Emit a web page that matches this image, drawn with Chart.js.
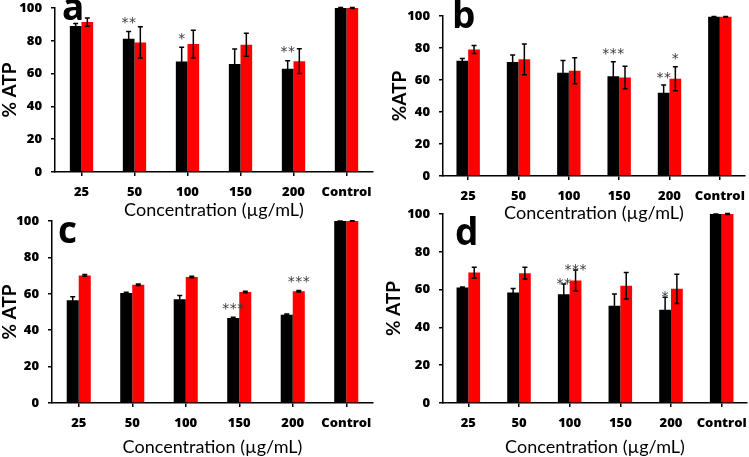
<!DOCTYPE html>
<html>
<head>
<meta charset="utf-8">
<script src="https://cdn.jsdelivr.net/npm/chart.js@4.4.0/dist/chart.umd.min.js"></script>
<style>
  html, body { margin: 0; padding: 0; background: #fff; }
  body { width: 749px; height: 457px; position: relative; overflow: hidden; }
  canvas { position: absolute; }
</style>
</head>
<body>
<canvas id="pa" width="375" height="225" style="left:0;top:0"></canvas>
<canvas id="pb" width="374" height="225" style="left:375px;top:0"></canvas>
<canvas id="pc" width="375" height="252" style="left:0;top:205px"></canvas>
<canvas id="pd" width="374" height="252" style="left:375px;top:205px"></canvas>
<script>
const categories = ['25', '50', '100', '150', '200', 'Control'];
const yTicks = [0, 20, 40, 60, 80, 100];
const xTitle = 'Concentration (µg/mL)';

// panel a
const aBlack = [89, 81.3, 67.4, 65.8, 63, 100];
const aBlackErr = [1.6, 4.4, 8.6, 9.2, 4.8, 0.3];
const aRed = [91.4, 79, 78, 77.6, 67.6, 100];
const aRedErr = [2.5, 9.5, 8.5, 7, 7.5, 0.3];
const aStarsBlack = ['', '**', '*', '', '**', ''];
const aStarsRed = ['', '', '', '', '', ''];

// panel b
const bBlack = [72, 71.2, 64.5, 62.4, 52, 99.5];
const bBlackErr = [1.5, 4.4, 7.7, 9, 4.8, 0.2];
const bRed = [79.1, 72.9, 65.8, 61.6, 60.8, 99.5];
const bRedErr = [2.5, 9.6, 8.1, 7, 7.5, 0.2];
const bStarsBlack = ['', '', '', '***', '**', ''];
const bStarsRed = ['', '', '', '', '*', ''];

// panel c
const cBlack = [56.4, 60.4, 57, 46.7, 48.5, 100];
const cBlackErr = [2, 0.4, 2, 0.4, 0.4, 0];
const cRed = [70.1, 65, 69.2, 61, 61.4, 100];
const cRedErr = [0.5, 0.4, 0.4, 0.4, 0.4, 0.2];
const cStarsBlack = ['', '', '', '***', '', ''];
const cStarsRed = ['', '', '', '', '***', ''];

// panel d
const dBlack = [61.1, 58.5, 57.6, 51.4, 49.3, 100];
const dBlackErr = [0.3, 2.1, 5.4, 6.3, 6.7, 0];
const dRed = [69, 68.7, 64.8, 62, 60.4, 100];
const dRedErr = [2.8, 3.1, 5.6, 7, 7.7, 0.2];
const dStarsBlack = ['', '', '**', '', '*', ''];
const dStarsRed = ['', '', '***', '', '', ''];

const FONT = 'Lato, "Open Sans", sans-serif';
const TICK_FONT = { family: '"Open Sans", sans-serif', weight: 800, size: 13 };

// error bars, significance stars and the panel letter
const extrasPlugin = {
  id: 'extras',
  afterDatasetsDraw(chart, args, opts) {
    const ctx = chart.ctx;
    const y = chart.scales.y;
    ctx.save();
    chart.data.datasets.forEach((ds, i) => {
      const meta = chart.getDatasetMeta(i);
      meta.data.forEach((bar, j) => {
        const v = ds.data[j];
        const e = ds.errors[j];
        const top = y.getPixelForValue(v + e);
        const bot = y.getPixelForValue(v - e);
        ctx.strokeStyle = '#000';
        ctx.lineWidth = 1.5;
        ctx.beginPath();
        ctx.moveTo(bar.x, top); ctx.lineTo(bar.x, bot);
        ctx.moveTo(bar.x - 2.5, top); ctx.lineTo(bar.x + 2.5, top);
        ctx.moveTo(bar.x - 2.5, bot); ctx.lineTo(bar.x + 2.5, bot);
        ctx.stroke();
        const s = ds.stars[j];
        if (s) {
          ctx.fillStyle = '#3a3a3a';
          ctx.font = '14px "DejaVu Sans", sans-serif';
          ctx.textAlign = 'center';
          ctx.textBaseline = 'middle';
          const gap = 7.5;
          const x0 = bar.x - (s.length - 1) * gap / 2;
          for (let k = 0; k < s.length; k++) {
            ctx.fillText('*', x0 + k * gap, top - opts.starLift);
          }
        }
      });
    });
    ctx.fillStyle = '#000';
    ctx.font = 'bold 37px "Open Sans", sans-serif';
    ctx.textAlign = 'left';
    ctx.textBaseline = 'alphabetic';
    ctx.fillText(opts.letter, chart.chartArea.left + opts.letterDx, opts.letterY);
    ctx.restore();
  }
};

function makePanel(id, p) {
  const ctx = document.getElementById(id).getContext('2d');
  return new Chart(ctx, {
    type: 'bar',
    data: {
      labels: categories,
      datasets: [
        { data: p.black, errors: p.blackErr, stars: p.starsBlack, backgroundColor: '#000000', borderWidth: 0 },
        { data: p.red, errors: p.redErr, stars: p.starsRed, backgroundColor: '#ff0000', borderWidth: 0 }
      ]
    },
    options: {
      responsive: false,
      animation: false,
      events: [],
      layout: { padding: { top: p.padTop, right: p.padRight, left: 0, bottom: 0 } },
      datasets: { bar: { barPercentage: 1, categoryPercentage: p.catPct } },
      plugins: {
        legend: { display: false },
        tooltip: { enabled: false },
        extras: { letter: p.letter, letterDx: p.letterDx, letterY: p.letterY, starLift: p.starLift }
      },
      scales: {
        x: {
          grid: { display: true, drawOnChartArea: false, drawTicks: true, tickLength: 4, offset: false, color: '#000', lineWidth: 1.5 },
          border: { display: true, color: '#000', width: 1.5 },
          ticks: { color: '#000', padding: 8, font: TICK_FONT, maxRotation: 0, minRotation: 0, autoSkip: false },
          title: { display: true, text: xTitle, color: '#000', padding: { top: 0, bottom: p.xTitlePad }, font: { family: FONT, size: 18, lineHeight: 1 } },
          afterFit(s) { s.height = p.xH; s.paddingLeft = 0; s.paddingRight = 0; }
        },
        y: {
          min: 0, max: 100,
          afterBuildTicks(s) { s.ticks = yTicks.map(v => ({ value: v })); },
          grid: { display: true, drawOnChartArea: false, drawTicks: true, tickLength: 4, color: '#000', lineWidth: 1.5 },
          border: { display: true, color: '#000', width: 1.5 },
          ticks: { color: '#000', padding: 9, font: TICK_FONT },
          title: { display: true, text: p.yTitle, color: '#000', padding: { top: p.yTitlePad, bottom: 0 }, font: { family: FONT, weight: 'bold', size: 19, lineHeight: 1 } },
          afterFit(s) { s.width = p.yW; s.paddingTop = 0; s.paddingBottom = 0; }
        }
      }
    },
    plugins: [extrasPlugin]
  });
}

makePanel('pa', {
  black: aBlack, blackErr: aBlackErr, red: aRed, redErr: aRedErr, starsBlack: aStarsBlack, starsRed: aStarsRed,
  yTitle: '% ATP', letter: 'a', letterDx: 7, letterY: 20, starLift: 8,
  padTop: 8, padRight: 2, yW: 55, xH: 53, catPct: 0.44, xTitlePad: 5.5, yTitlePad: 0.5
});
makePanel('pb', {
  black: bBlack, blackErr: bBlackErr, red: bRed, redErr: bRedErr, starsBlack: bStarsBlack, starsRed: bStarsRed,
  yTitle: '%ATP', letter: 'b', letterDx: 9, letterY: 28, starLift: 7,
  padTop: 16, padRight: 4, yW: 68, xH: 49, catPct: 0.465, xTitlePad: 2.5, yTitlePad: 15.5
});
makePanel('pc', {
  black: cBlack, blackErr: cBlackErr, red: cRed, redErr: cRedErr, starsBlack: cStarsBlack, starsRed: cStarsRed,
  yTitle: '% ATP', letter: 'c', letterDx: 6, letterY: 38, starLift: 8,
  padTop: 16, padRight: 2, yW: 52, xH: 54, catPct: 0.45, xTitlePad: 0.5, yTitlePad: 0.5
});
makePanel('pd', {
  black: dBlack, blackErr: dBlackErr, red: dRed, redErr: dRedErr, starsBlack: dStarsBlack, starsRed: dStarsRed,
  yTitle: '% ATP', letter: 'd', letterDx: 12, letterY: 40, starLift: 0,
  padTop: 9, padRight: 2, yW: 68, xH: 54, catPct: 0.465, xTitlePad: 0.5, yTitlePad: 9.5
});
</script>
</body>
</html>
